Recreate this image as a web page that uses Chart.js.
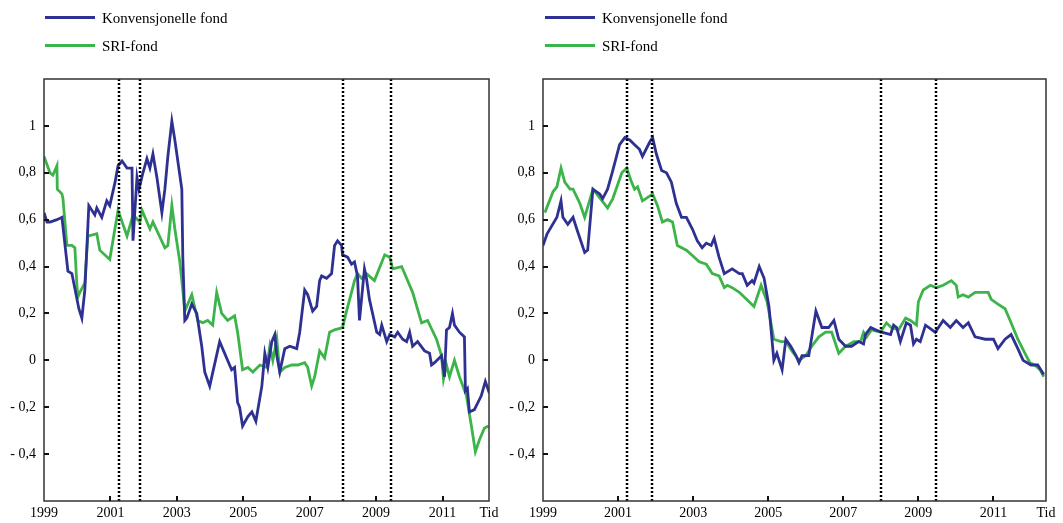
<!DOCTYPE html>
<html lang="no">
<head>
    <meta charset="UTF-8">
    <title>Konvensjonelle fond og SRI-fond</title>
    <script src="https://cdn.jsdelivr.net/npm/chart.js"></script>
    <style>
        body { margin: 0; background: #fff; width: 1063px; height: 523px; position: relative; overflow: hidden; font-family: "Liberation Serif", serif; }
        canvas { position: absolute; top: 0; }
        #venstre { left: 0; }
        #hoyre { left: 495px; }
        .legend { position: absolute; top: 4px; font-size: 15px; color: #000; }
        .legend div { position: relative; height: 28px; line-height: 28px; padding-left: 57px; white-space: nowrap; }
        .legend span { position: absolute; left: 0; top: 12px; width: 50px; height: 3px; }
    </style>
</head>
<body>

    <canvas id="venstre" width="531" height="523"></canvas>
    <canvas id="hoyre" width="568" height="523"></canvas>

    <!-- Tegnforklaring, en for hvert panel -->
    <div class="legend" style="left:45px">
        <div><span style="background:#2e3192"></span>Konvensjonelle fond</div>
        <div><span style="background:#3cb44a"></span>SRI-fond</div>
    </div>
    <div class="legend" style="left:545px">
        <div><span style="background:#2e3192"></span>Konvensjonelle fond</div>
        <div><span style="background:#3cb44a"></span>SRI-fond</div>
    </div>

    <script>
        // Data lest av figuren: [år, verdi]
        const venstreKonv = [
            [1999.00,0.63],[1999.09,0.59],[1999.18,0.59],[1999.39,0.60],[1999.54,0.61],[1999.72,0.38],[1999.84,0.37],
            [2000.05,0.22],[2000.14,0.18],[2000.23,0.30],[2000.35,0.66],[2000.53,0.62],[2000.59,0.65],[2000.74,0.61],
            [2000.89,0.68],[2000.98,0.66],[2001.14,0.76],[2001.23,0.83],[2001.35,0.85],[2001.50,0.82],[2001.65,0.82],
            [2001.68,0.51],[2001.80,0.78],[2001.86,0.73],[2001.98,0.80],[2002.10,0.86],[2002.19,0.82],[2002.28,0.88],
            [2002.40,0.78],[2002.55,0.63],[2002.64,0.73],[2002.73,0.87],[2002.85,1.02],[2002.94,0.94],[2003.15,0.73],
            [2003.18,0.44],[2003.24,0.17],[2003.30,0.18],[2003.45,0.24],[2003.60,0.20],[2003.75,0.06],[2003.84,-0.05],
            [2003.99,-0.11],[2004.29,0.08],[2004.65,-0.04],[2004.74,-0.03],[2004.83,-0.18],[2004.89,-0.20],[2004.98,-0.28],
            [2005.14,-0.24],[2005.26,-0.22],[2005.38,-0.26],[2005.56,-0.11],[2005.65,0.03],[2005.74,-0.03],[2005.86,0.08],
            [2005.95,0.11],[2006.01,0.02],[2006.10,-0.05],[2006.25,0.05],[2006.40,0.06],[2006.61,0.05],[2006.70,0.12],
            [2006.85,0.30],[2006.94,0.28],[2007.09,0.21],[2007.21,0.23],[2007.30,0.34],[2007.36,0.36],[2007.51,0.35],
            [2007.66,0.37],[2007.75,0.49],[2007.84,0.51],[2007.96,0.49],[2007.99,0.45],[2008.14,0.44],[2008.26,0.41],
            [2008.35,0.42],[2008.44,0.36],[2008.50,0.17],[2008.65,0.39],[2008.71,0.35],[2008.80,0.26],[2009.02,0.12],
            [2009.11,0.11],[2009.17,0.15],[2009.32,0.08],[2009.41,0.11],[2009.56,0.10],[2009.65,0.12],[2009.80,0.09],
            [2009.92,0.08],[2010.01,0.12],[2010.10,0.06],[2010.25,0.08],[2010.46,0.04],[2010.61,0.03],[2010.67,-0.02],
            [2010.76,-0.01],[2010.97,0.02],[2011.06,-0.07],[2011.12,0.13],[2011.21,0.14],[2011.30,0.20],[2011.36,0.15],
            [2011.51,0.12],[2011.66,0.10],[2011.69,-0.13],[2011.75,-0.12],[2011.81,-0.22],[2011.96,-0.21],[2012.17,-0.15],
            [2012.29,-0.09],[2012.41,-0.14]
        ];
        const venstreSri = [
            [1999.00,0.87],[1999.18,0.80],[1999.27,0.79],[1999.39,0.83],[1999.40,0.73],[1999.54,0.71],[1999.57,0.69],
            [1999.69,0.49],[1999.84,0.49],[1999.93,0.48],[1999.99,0.32],[2000.02,0.27],[2000.08,0.29],[2000.23,0.33],
            [2000.32,0.53],[2000.59,0.54],[2000.68,0.47],[2000.98,0.43],[2001.23,0.64],[2001.50,0.53],[2001.68,0.62],
            [2001.89,0.59],[2001.95,0.64],[2002.19,0.56],[2002.28,0.59],[2002.64,0.48],[2002.73,0.49],[2002.85,0.66],
            [2002.94,0.56],[2003.09,0.42],[2003.18,0.30],[2003.24,0.21],[2003.45,0.28],[2003.63,0.17],[2003.78,0.16],
            [2003.93,0.17],[2004.08,0.15],[2004.20,0.29],[2004.35,0.20],[2004.53,0.17],[2004.74,0.19],[2004.83,0.12],
            [2004.98,-0.04],[2005.14,-0.03],[2005.29,-0.05],[2005.50,-0.02],[2005.71,-0.03],[2005.80,0.06],[2005.89,0.00],
            [2006.01,0.09],[2006.10,-0.05],[2006.25,-0.03],[2006.46,-0.02],[2006.64,-0.02],[2006.85,-0.01],[2006.94,-0.03],
            [2007.06,-0.11],[2007.15,-0.07],[2007.30,0.04],[2007.45,0.01],[2007.60,0.12],[2007.75,0.13],[2007.99,0.14],
            [2008.11,0.21],[2008.26,0.29],[2008.35,0.34],[2008.44,0.37],[2008.56,0.35],[2008.71,0.37],[2008.95,0.34],
            [2009.26,0.45],[2009.41,0.44],[2009.50,0.39],[2009.77,0.40],[2010.10,0.29],[2010.37,0.16],[2010.55,0.17],
            [2010.82,0.09],[2010.97,0.02],[2011.03,-0.08],[2011.12,-0.02],[2011.21,-0.07],[2011.36,0.00],[2011.51,-0.07],
            [2011.72,-0.15],[2011.87,-0.28],[2011.99,-0.39],[2012.11,-0.34],[2012.26,-0.29],[2012.38,-0.28]
        ];
        const hoyreKonv = [
            [1999.00,0.49],[1999.11,0.54],[1999.37,0.61],[1999.48,0.68],[1999.53,0.61],[1999.66,0.58],[1999.80,0.61],
            [1999.90,0.56],[2000.11,0.46],[2000.19,0.47],[2000.33,0.73],[2000.51,0.71],[2000.59,0.69],[2000.72,0.73],
            [2000.86,0.81],[2001.04,0.92],[2001.18,0.95],[2001.31,0.94],[2001.44,0.92],[2001.57,0.90],[2001.65,0.87],
            [2001.84,0.93],[2001.92,0.95],[2002.02,0.88],[2002.16,0.81],[2002.29,0.80],[2002.42,0.76],[2002.55,0.67],
            [2002.69,0.61],[2002.82,0.61],[2002.98,0.56],[2003.11,0.51],[2003.24,0.48],[2003.35,0.50],[2003.48,0.49],
            [2003.56,0.52],[2003.69,0.44],[2003.83,0.37],[2004.04,0.39],[2004.23,0.37],[2004.31,0.37],[2004.44,0.32],
            [2004.57,0.34],[2004.62,0.33],[2004.76,0.40],[2004.89,0.35],[2005.02,0.23],[2005.15,0.00],[2005.23,0.03],
            [2005.37,-0.04],[2005.47,0.09],[2005.60,0.06],[2005.74,0.02],[2005.82,-0.01],[2005.90,0.02],[2006.08,0.02],
            [2006.27,0.21],[2006.43,0.14],[2006.61,0.14],[2006.75,0.17],[2006.88,0.09],[2007.06,0.06],[2007.22,0.06],
            [2007.41,0.08],[2007.54,0.07],[2007.59,0.11],[2007.73,0.14],[2007.86,0.13],[2008.02,0.12],[2008.26,0.11],
            [2008.34,0.15],[2008.42,0.14],[2008.52,0.08],[2008.68,0.16],[2008.79,0.15],[2008.87,0.07],[2008.95,0.09],
            [2009.05,0.08],[2009.19,0.15],[2009.45,0.12],[2009.66,0.17],[2009.85,0.14],[2010.01,0.17],[2010.19,0.14],
            [2010.33,0.16],[2010.51,0.10],[2010.78,0.09],[2011.00,0.09],[2011.12,0.05],[2011.31,0.09],[2011.47,0.11],
            [2011.65,0.05],[2011.79,0.00],[2012.00,-0.02],[2012.18,-0.02],[2012.34,-0.06]
        ];
        const hoyreSri = [
            [1999.05,0.63],[1999.27,0.72],[1999.37,0.74],[1999.48,0.82],[1999.58,0.76],[1999.72,0.73],[1999.80,0.73],
            [1999.98,0.67],[2000.11,0.61],[2000.33,0.73],[2000.72,0.65],[2000.86,0.69],[2001.10,0.80],[2001.23,0.82],
            [2001.36,0.76],[2001.44,0.73],[2001.52,0.74],[2001.65,0.68],[2001.84,0.70],[2001.92,0.71],[2002.05,0.66],
            [2002.18,0.59],[2002.32,0.60],[2002.45,0.59],[2002.58,0.49],[2002.82,0.47],[2003.03,0.44],[2003.16,0.42],
            [2003.35,0.41],[2003.51,0.37],[2003.69,0.36],[2003.83,0.31],[2003.91,0.32],[2004.04,0.31],[2004.23,0.29],
            [2004.49,0.25],[2004.62,0.23],[2004.81,0.32],[2004.97,0.25],[2005.15,0.09],[2005.34,0.08],[2005.47,0.08],
            [2005.63,0.04],[2005.82,0.00],[2006.00,0.02],[2006.16,0.06],[2006.35,0.10],[2006.53,0.12],[2006.69,0.12],
            [2006.88,0.03],[2007.06,0.06],[2007.28,0.08],[2007.46,0.08],[2007.54,0.12],[2007.62,0.10],[2007.75,0.13],
            [2007.99,0.12],[2008.15,0.16],[2008.28,0.14],[2008.47,0.13],[2008.66,0.18],[2008.79,0.17],[2008.95,0.15],
            [2009.00,0.25],[2009.13,0.30],[2009.32,0.32],[2009.48,0.31],[2009.66,0.32],[2009.88,0.34],[2010.01,0.32],
            [2010.06,0.27],[2010.19,0.28],[2010.33,0.27],[2010.51,0.29],[2010.67,0.29],[2010.86,0.29],[2010.94,0.26],
            [2011.12,0.24],[2011.31,0.22],[2011.47,0.16],[2011.65,0.09],[2011.84,0.03],[2011.97,-0.01],[2012.10,-0.02],
            [2012.24,-0.04],[2012.34,-0.07]
        ];

        // Resesjonsperioder (stiplede linjer), akser
        const resesjoner = [2001.25, 2001.9, 2008.0, 2009.46];
        const aarTicks = [1999, 2001, 2003, 2005, 2007, 2009, 2011];
        const yTicks = [-0.4, -0.2, 0, 0.2, 0.4, 0.6, 0.8, 1];
        const xMin = 1999, xMax = 2012.4;
        const yMin = -0.6, yMax = 1.2;

        const blaa = '#2e3192';
        const gronn = '#3cb44a';
        const tickFont = { family: 'Liberation Serif', size: 14 };

        function formaterY(v) {
            const r = Math.round(v * 10) / 10;
            const s = Math.abs(r) === 1 || r === 0 ? String(Math.abs(r)) : Math.abs(r).toFixed(1).replace('.', ',');
            return r < 0 ? '- ' + s : s;
        }

        // Ramme, innoverpekende tick-streker og stiplede resesjonslinjer
        const rammePlugin = {
            id: 'ramme',
            afterDatasetsDraw(chart) {
                const { ctx, chartArea: a, scales: { x, y } } = chart;
                ctx.save();
                ctx.strokeStyle = '#000';
                ctx.lineWidth = 2.5;
                ctx.setLineDash([2, 2]);
                resesjoner.forEach(t => {
                    const px = Math.round(x.getPixelForValue(t));
                    ctx.beginPath();
                    ctx.moveTo(px, a.top);
                    ctx.lineTo(px, a.bottom);
                    ctx.stroke();
                });
                ctx.setLineDash([]);

                ctx.strokeStyle = '#333';
                ctx.lineWidth = 1.5;
                ctx.strokeRect(a.left, a.top, a.right - a.left, a.bottom - a.top);

                ctx.strokeStyle = '#111';
                ctx.lineWidth = 2;
                yTicks.forEach(v => {
                    const py = Math.round(y.getPixelForValue(v));
                    ctx.beginPath();
                    ctx.moveTo(a.left, py);
                    ctx.lineTo(a.left + 5, py);
                    ctx.stroke();
                });
                aarTicks.slice(1).forEach(v => {
                    const px = Math.round(x.getPixelForValue(v));
                    ctx.beginPath();
                    ctx.moveTo(px, a.bottom);
                    ctx.lineTo(px, a.bottom - 5);
                    ctx.stroke();
                });
                ctx.restore();
            }
        };

        function lagFigur(id, konv, sri, yBredde, hoyrePadding) {
            new Chart(document.getElementById(id), {
                type: 'line',
                data: {
                    datasets: [
                        { label: 'Konvensjonelle fond', data: konv.map(p => ({ x: p[0], y: p[1] })), borderColor: blaa, borderWidth: 2.8 },
                        { label: 'SRI-fond', data: sri.map(p => ({ x: p[0], y: p[1] })), borderColor: gronn, borderWidth: 2.8 }
                    ]
                },
                options: {
                    responsive: false,
                    animation: false,
                    events: [],
                    elements: { point: { radius: 0 }, line: { tension: 0 } },
                    layout: { padding: { top: 79, right: hoyrePadding, bottom: 0, left: 0 } },
                    plugins: { legend: { display: false }, tooltip: { enabled: false } },
                    scales: {
                        x: {
                            type: 'linear',
                            min: xMin,
                            max: xMax,
                            grid: { display: false, drawTicks: false },
                            border: { display: false },
                            afterBuildTicks: s => { s.ticks = aarTicks.map(v => ({ value: v })).concat([{ value: xMax }]); },
                            afterFit: s => { s.height = 22; },
                            ticks: {
                                autoSkip: false,
                                maxRotation: 0,
                                padding: 4,
                                color: '#000',
                                font: tickFont,
                                callback: v => v === xMax ? 'Tid' : String(v)
                            }
                        },
                        y: {
                            min: yMin,
                            max: yMax,
                            grid: { display: false, drawTicks: false },
                            border: { display: false },
                            afterBuildTicks: s => { s.ticks = yTicks.map(v => ({ value: v })); },
                            afterFit: s => { s.width = yBredde; },
                            ticks: {
                                padding: 8,
                                color: '#000',
                                font: tickFont,
                                callback: v => formaterY(v)
                            }
                        }
                    }
                },
                plugins: [rammePlugin]
            });
        }

        lagFigur('venstre', venstreKonv, venstreSri, 44, 42);
        lagFigur('hoyre', hoyreKonv, hoyreSri, 48, 17);
    </script>

</body>
</html>
